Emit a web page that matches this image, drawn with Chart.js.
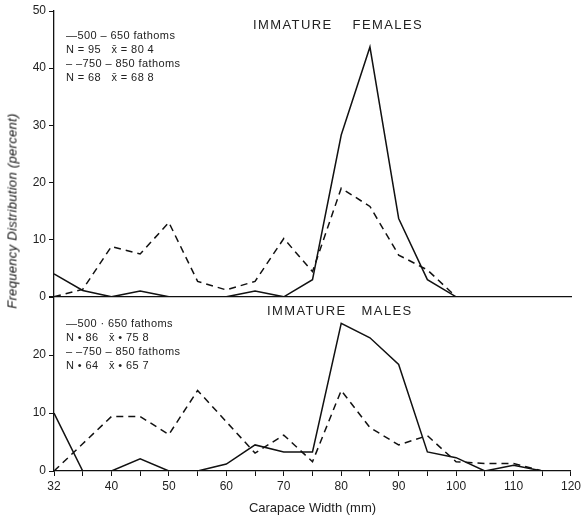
<!DOCTYPE html>
<html>
<head>
<meta charset="utf-8">
<script src="https://cdn.jsdelivr.net/npm/chart.js@4"></script>
<style>
  body { margin: 0; background: #fff; font-family: "Liberation Sans", sans-serif; color: #222; }
  #wrap { position: relative; width: 584px; height: 521px; overflow: hidden; }
  canvas { position: absolute; left: 0; }
  .txt { position: absolute; white-space: pre; color: #222; }
  .title { font-size: 13px; letter-spacing: 1.4px; }
  .leg { font-size: 11px; line-height: 14px; letter-spacing: 0.4px; }
  #ytitle { font-size: 13px; font-style: italic; letter-spacing: 0.3px; color: #111;
            left: 12px; top: 211px; transform: translate(-50%, -50%) rotate(-90deg); }
</style>
</head>
<body>
<div id="wrap">
  <canvas id="topChart" width="584" height="307" style="top:0px;width:584px;height:307px"></canvas>
  <canvas id="bottomChart" width="584" height="234" style="top:287px;width:584px;height:234px"></canvas>
  <div class="txt title" style="left:253px;top:17px">IMMATURE    FEMALES</div>
  <div class="txt title" style="left:267px;top:303px">IMMATURE   MALES</div>
  <div class="txt leg" style="left:66px;top:28px">—500 – 650 fathoms
N = 95   x̄ = 80 4
– –750 – 850 fathoms
N = 68   x̄ = 68 8</div>
  <div class="txt leg" style="left:66px;top:316px">—500 · 650 fathoms
N • 86   x̄ • 75 8
– –750 – 850 fathoms
N • 64   x̄ • 65 7</div>
  <div class="txt" id="ytitle">Frequency Distribution (percent)</div>
</div>
<script>
// carapace width classes (mm); first class is drawn at the axis origin
const widths = ['32', '35', '40', '45', '50', '55', '60', '65', '70', '75', '80',
                '85', '90', '95', '100', '105', '110', '115', '120'];

// immature females, percent
const femalesShallow = [4.0, 1.1, 0, 1.0, 0, 0, 0, 1.0, 0, 3.0, 28.3, 43.7, 13.7, 3.0, 0, null, null, null, null];
const femalesDeep = [0, 1.3, 8.8, 7.5, 13.0, 2.7, 1.2, 2.7, 10.2, 4.4, 19.0, 15.8, 7.3, 4.7, 0, null, null, null, null];

// immature males, percent
const malesShallow = [10.0, 0, 0, 2.1, 0, 0, 1.2, 4.5, 3.3, 3.3, 25.5, 23.0, 18.4, 3.3, 2.3, 0, 1.0, 0, null];
const malesDeep = [0, 4.7, 9.4, 9.4, 6.3, 13.9, 8.5, 3.1, 6.2, 1.6, 13.9, 7.5, 4.5, 6.1, 1.6, 1.3, 1.3, 0, null];

const topTicks = [0, 10, 20, 30, 40, 50];
const bottomTicks = [0, 10, 20, 30];

const ink = '#111';
const tickFont = { family: 'Liberation Sans', size: 12 };

function lineSet(label, data, dashed) {
    return {
        label: label,
        data: data,
        borderColor: ink,
        borderWidth: 1.5,
        borderDash: dashed ? [7, 5] : [],
        pointRadius: 0,
        tension: 0,
        fill: false,
        spanGaps: false
    };
}

function yScale(max, ticks, hideTop) {
    return {
        min: 0,
        max: max,
        afterBuildTicks: s => { s.ticks = ticks.map(v => ({ value: v })); },
        afterFit: s => { s.width = 54; },
        border: { display: true, color: ink, width: 1.3 },
        grid: { drawOnChartArea: false, drawTicks: true, tickLength: 5, color: ink },
        ticks: {
            color: '#222',
            font: tickFont,
            padding: 3,
            callback: v => (hideTop && v === max) ? '' : v
        }
    };
}

const commonOptions = {
    responsive: false,
    animation: false,
    plugins: { legend: { display: false }, tooltip: { enabled: false } }
};

new Chart(document.getElementById('topChart'), {
    type: 'line',
    data: {
        labels: widths,
        datasets: [
            lineSet('500 - 650 fathoms', femalesShallow, false),
            lineSet('750 - 850 fathoms', femalesDeep, true)
        ]
    },
    options: {
        ...commonOptions,
        layout: { padding: { top: 11, right: 13, bottom: 0, left: 0 } },
        scales: {
            x: {
                offset: false,
                afterFit: s => { s.height = 3; },
                border: { display: true, color: ink, width: 1.3 },
                grid: { display: false },
                ticks: { display: false }
            },
            y: yScale(50, topTicks, false)
        }
    }
});

new Chart(document.getElementById('bottomChart'), {
    type: 'line',
    data: {
        labels: widths,
        datasets: [
            lineSet('500 - 650 fathoms', malesShallow, false),
            lineSet('750 - 850 fathoms', malesDeep, true)
        ]
    },
    options: {
        ...commonOptions,
        layout: { padding: { top: 7, right: 13, bottom: 0, left: 0 } },
        scales: {
            x: {
                offset: false,
                border: { display: true, color: ink, width: 1.3 },
                grid: { drawOnChartArea: false, drawTicks: true, tickLength: 5, color: ink },
                ticks: {
                    color: '#222',
                    font: tickFont,
                    padding: 3,
                    autoSkip: false,
                    maxRotation: 0,
                    callback: function (v) {
                        const l = this.getLabelForValue(v);
                        return (l === '32' || Number(l) % 10 === 0) ? l : '';
                    }
                },
                title: {
                    display: true,
                    text: 'Carapace Width (mm)',
                    color: '#222',
                    font: { family: 'Liberation Sans', size: 13 },
                    padding: { top: 4, bottom: 5 }
                }
            },
            y: yScale(30, bottomTicks, true)
        }
    }
});
</script>
</body>
</html>
